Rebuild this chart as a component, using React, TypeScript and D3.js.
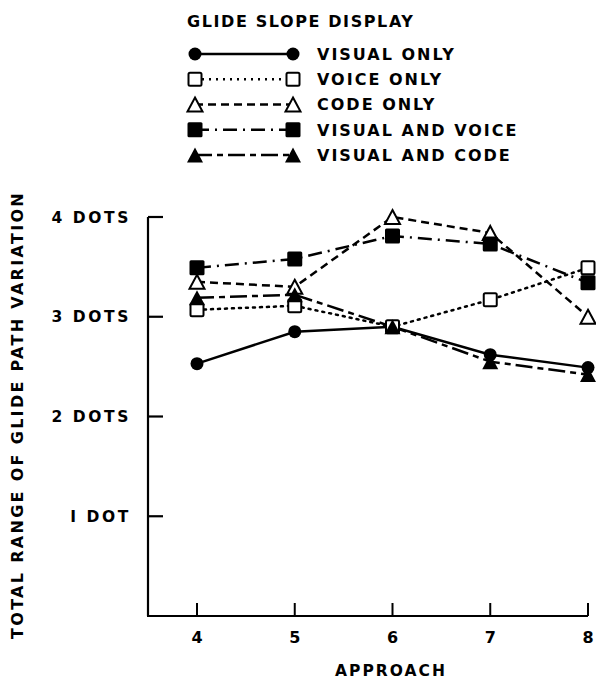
import * as d3 from 'd3';
import React from 'react';

// approach numbers on the x axis
const approaches = [4, 5, 6, 7, 8];

// total range of glide path variation, in dots
const visualOnly = [2.53, 2.85, 2.9, 2.62, 2.49];
const voiceOnly = [3.07, 3.11, 2.9, 3.17, 3.49];
const codeOnly = [3.35, 3.3, 4.0, 3.84, 3.0];
const visualAndVoice = [3.49, 3.58, 3.81, 3.73, 3.34];
const visualAndCode = [3.19, 3.22, 2.9, 2.55, 2.42];

const yTicks = [1, 2, 3, 4];
const yTickLabels = ['I DOT', '2 DOTS', '3 DOTS', '4 DOTS'];

const seriesNames = ['VISUAL ONLY', 'VOICE ONLY', 'CODE ONLY', 'VISUAL AND VOICE', 'VISUAL AND CODE'];
const seriesValues = [visualOnly, voiceOnly, codeOnly, visualAndVoice, visualAndCode];
const seriesMarkers = ['circle', 'square-open', 'triangle-open', 'square', 'triangle'];
const seriesDash = ['none', '2,5', '8,5', '14,6,2,6', '17,5,6,5'];

const FONT = '"DejaVu Sans", sans-serif';

const Marker = ({ type, x, y }: { type: string; x: number; y: number }) => {
  const open = type.endsWith('open');
  const fill = open ? '#fff' : '#000';
  if (type === 'circle') return <circle cx={x} cy={y} r={6.5} fill="#000" />;
  if (type.startsWith('square')) {
    const s = open ? 13 : 15;
    return (
      <rect x={x - s / 2} y={y - s / 2} width={s} height={s} rx={1.5}
        fill={fill} stroke="#000" strokeWidth={open ? 2 : 0} />
    );
  }
  const h = open ? 14 : 15;
  const w = open ? 15 : 16;
  const p = `M${x},${y - h / 2}L${x + w / 2},${y + h / 2}L${x - w / 2},${y + h / 2}Z`;
  return <path d={p} fill={fill} stroke="#000" strokeWidth={open ? 2 : 0} strokeLinejoin="miter" />;
};

const App = () => {
  const width = 596;
  const height = 681;

  const x = d3.scaleLinear().domain([4, 8]).range([197, 588]);
  const y = d3.scaleLinear().domain([0, 4]).range([616, 217]);
  const axisLeft = 148;

  const line = d3
    .line<number>()
    .x((d, i) => x(approaches[i]))
    .y((d) => y(d));

  const legendY = d3.scaleLinear().domain([0, 4]).range([54, 155]);

  return (
    <svg width={width} height={height} style={{ position: 'absolute', left: 0, top: 0, background: '#fff' }}>
      <g fontFamily={FONT} fontWeight="bold" fill="#000">
        {/* legend */}
        <text x={187} y={27} fontSize={16} letterSpacing={1.6}>GLIDE SLOPE DISPLAY</text>
        {seriesNames.map((name, i) => {
          const ly = legendY(i);
          return (
            <g key={name}>
              <line x1={195} x2={293} y1={ly} y2={ly} stroke="#000" strokeWidth={2.5}
                strokeDasharray={seriesDash[i]} />
              <Marker type={seriesMarkers[i]} x={195} y={ly} />
              <Marker type={seriesMarkers[i]} x={293} y={ly} />
              <text x={317} y={ly} dy="0.36em" fontSize={16} letterSpacing={2}>{name}</text>
            </g>
          );
        })}

        {/* axes */}
        <line x1={axisLeft} x2={axisLeft} y1={y(4)} y2={y(0)} stroke="#000" strokeWidth={2.2} />
        <line x1={axisLeft - 1} x2={x(8)} y1={y(0)} y2={y(0)} stroke="#000" strokeWidth={2.2} />
        {yTicks.map((t, i) => (
          <g key={t}>
            <line x1={axisLeft} x2={axisLeft + 15} y1={y(t)} y2={y(t)} stroke="#000" strokeWidth={2.2} />
            <text x={131} y={y(t)} dy="0.36em" textAnchor="end" fontSize={15.5} letterSpacing={2.6}>
              {yTickLabels[i]}
            </text>
          </g>
        ))}
        {approaches.map((a) => (
          <g key={a}>
            <line x1={x(a)} x2={x(a)} y1={y(0)} y2={y(0) - 13} stroke="#000" strokeWidth={2} />
            <text x={x(a)} y={643} textAnchor="middle" fontSize={16}>{a}</text>
          </g>
        ))}
        <text x={391} y={676} textAnchor="middle" fontSize={15.5} letterSpacing={2}>APPROACH</text>
        <text transform="translate(23,415) rotate(-90)" textAnchor="middle" fontSize={16} letterSpacing={2.3}>
          TOTAL RANGE OF GLIDE PATH VARIATION
        </text>

        {/* series */}
        {seriesValues.map((vals, i) => (
          <path key={seriesNames[i]} d={line(vals) || ''} fill="none" stroke="#000" strokeWidth={2.5}
            strokeDasharray={seriesDash[i]} strokeLinecap={i === 1 ? 'round' : 'butt'} />
        ))}
        {seriesValues.map((vals, i) =>
          vals.map((v, j) => (
            <Marker key={`${i}-${j}`} type={seriesMarkers[i]} x={x(approaches[j])} y={y(v)} />
          ))
        )}
      </g>
    </svg>
  );
};

export default App;
